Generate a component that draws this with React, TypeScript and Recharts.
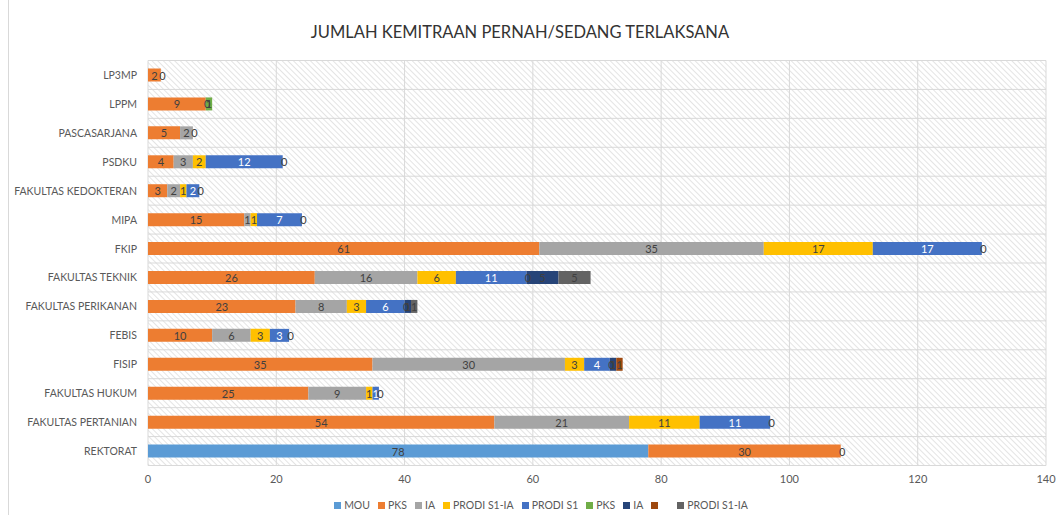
import React from 'react';
import { BarChart, Bar, XAxis, YAxis, CartesianGrid, LabelList } from 'recharts';

const FONT = 'Lato, "Open Sans", "Liberation Sans", sans-serif';

const categories = [
  'LP3MP',
  'LPPM',
  'PASCASARJANA',
  'PSDKU',
  'FAKULTAS KEDOKTERAN',
  'MIPA',
  'FKIP',
  'FAKULTAS TEKNIK',
  'FAKULTAS PERIKANAN',
  'FEBIS',
  'FISIP',
  'FAKULTAS HUKUM',
  'FAKULTAS PERTANIAN',
  'REKTORAT',
];

const mou = [null, null, null, null, null, null, null, null, null, null, null, null, null, 78];
const pks = [2, 9, 5, 4, 3, 15, 61, 26, 23, 10, 35, 25, 54, 30];
const ia = [null, 0, 2, 3, 2, 1, 35, 16, 8, 6, 30, 9, 21, null];
const prodiS1IA = [null, null, null, 2, 1, 1, 17, 6, 3, 3, 3, 1, 11, null];
const prodiS1 = [null, null, null, 12, 2, 7, 17, 11, 6, 3, 4, 1, 11, null];
const pks2 = [0, 1, 0, 0, 0, 0, 0, 0, 0, 0, 0, 0, 0, 0];
const ia2 = [null, null, null, null, null, null, null, 5, 1, null, 1, null, null, null];
const unnamed = [null, null, null, null, null, null, null, null, null, null, 1, null, null, null];
const prodiS1IA2 = [null, null, null, null, null, null, null, 5, 1, null, null, null, null, null];

const xTicks = [0, 20, 40, 60, 80, 100, 120, 140];

const series = [
  { key: 'mou', name: 'MOU', values: mou, color: '#5B9BD5', label: '#404040' },
  { key: 'pks', name: 'PKS', values: pks, color: '#ED7D31', label: '#404040' },
  { key: 'ia', name: 'IA', values: ia, color: '#A5A5A5', label: '#404040' },
  { key: 'prodiS1IA', name: 'PRODI S1-IA', values: prodiS1IA, color: '#FFC000', label: '#404040' },
  { key: 'prodiS1', name: 'PRODI S1', values: prodiS1, color: '#4472C4', label: '#FFFFFF' },
  { key: 'pks2', name: 'PKS', values: pks2, color: '#70AD47', label: '#404040' },
  { key: 'ia2', name: 'IA', values: ia2, color: '#264478', label: '#404040' },
  { key: 'unnamed', name: '', values: unnamed, color: '#9E480E', label: '#404040' },
  { key: 'prodiS1IA2', name: 'PRODI S1-IA', values: prodiS1IA2, color: '#636363', label: '#404040' },
];

const data = categories.map((category, i) => {
  const row: Record<string, any> = { category, row: i };
  series.forEach((s) => {
    row[s.key] = s.values[i];
  });
  return row;
});

// number of zero-valued series drawn at the right end of series j in row i
const zerosAfter = (j: number, i: number) => {
  let count = 0;
  for (let k = j + 1; k < series.length; k++) {
    const v = series[k].values[i];
    if (v === null || v === undefined) continue;
    if (v === 0) count++;
    else break;
  }
  return count;
};

const makeAccessor = (j: number) => (entry: any) => {
  const p = entry && entry.payload;
  if (!p) return null;
  return `${p.row}|${p[series[j].key] ?? ''}`;
};

const makeLabel = (j: number) => (props: any) => {
  const { x, y, width, height, value } = props;
  if (typeof value !== 'string') return null;
  const [rowStr, valStr] = value.split('|');
  const row = Number(rowStr);
  if (valStr === '' || valStr === undefined) return null;
  const v = Number(valStr);
  const s = series[j];
  const cx = Number(x) + Number(width) / 2;
  const cy = Number(y) + Number(height) / 2;
  const zeros = v !== 0 ? zerosAfter(j, row) : 0;
  const common = {
    fontSize: 11,
    fontFamily: FONT,
    textAnchor: 'middle' as const,
    dominantBaseline: 'central' as const,
  };
  return (
    <g>
      {v !== 0 ? (
        <text x={cx} y={cy} fill={s.label} {...common}>
          {v}
        </text>
      ) : null}
      {Array.from({ length: zeros }, (_, z) => (
        <text key={z} x={Number(x) + Number(width) + 1.5} y={cy} fill="#404040" {...common}>
          0
        </text>
      ))}
    </g>
  );
};

const YTick = (props: any) => {
  const { x, y, payload } = props;
  return (
    <text x={x} y={y} textAnchor="end" dominantBaseline="central" fontSize={10.5} fill="#595959" fontFamily={FONT}>
      {payload.value}
    </text>
  );
};

export default function App() {
  return (
    <div style={{ position: 'absolute', left: 0, top: 0, width: 1056, height: 515, background: '#fff', fontFamily: FONT }}>
      <svg width={0} height={0} style={{ position: 'absolute' }}>
        <defs>
          <pattern id="hatch" patternUnits="userSpaceOnUse" width={4} height={4} patternTransform="rotate(-45)">
            <rect x={0} y={0} width={4} height={4} fill="#ffffff" />
            <line x1={0} y1={0} x2={0} y2={4} stroke="#d2d2d2" strokeWidth={1.2} />
          </pattern>
        </defs>
      </svg>
      <div style={{ position: 'absolute', left: 8, top: 0, width: 1, height: 515, background: '#d9d9d9' }} />
      <div
        style={{
          position: 'absolute',
          left: 0,
          width: 1040,
          top: 22,
          textAlign: 'center',
          fontSize: 16.5,
          color: '#333333',
          fontFamily: FONT,
          whiteSpace: 'nowrap',
        }}
      >
        JUMLAH KEMITRAAN PERNAH/SEDANG TERLAKSANA
      </div>
      <div style={{ position: 'absolute', left: 0, top: 0 }}>
        <BarChart
          width={1056}
          height={515}
          data={data}
          layout="vertical"
          barSize={13}
          margin={{ top: 60.5, right: 10, left: 0, bottom: 0 }}
        >
          <CartesianGrid
            stroke="#d9d9d9"
            fill="url(#hatch)"
            fillOpacity={1}
            horizontalCoordinatesGenerator={({ offset }: any) =>
              Array.from({ length: categories.length + 1 }, (_, i) => offset.top + (i * offset.height) / categories.length)
            }
          />
          <XAxis
            type="number"
            domain={[0, 140]}
            ticks={xTicks}
            axisLine={false}
            tickLine={false}
            tickMargin={4}
            height={49.5}
            tick={{ fontSize: 11, fill: '#595959', fontFamily: FONT }}
          />
          <YAxis
            type="category"
            dataKey="category"
            width={148}
            axisLine={false}
            tickLine={false}
            tickMargin={5}
            interval={0}
            tick={<YTick />}
          />
          {series.map((s, j) => (
            <Bar key={s.key} dataKey={s.key} name={s.name || ' '} stackId="a" fill={s.color} isAnimationActive={false}>
              <LabelList valueAccessor={makeAccessor(j)} content={makeLabel(j)} />
            </Bar>
          ))}
        </BarChart>
      </div>
      <div
        style={{
          position: 'absolute',
          left: 0,
          width: 1090,
          top: 499,
          display: 'flex',
          justifyContent: 'center',
          fontSize: 10.5,
          color: '#595959',
          fontFamily: FONT,
          whiteSpace: 'nowrap',
        }}
      >
        {series.map((s) => (
          <div key={s.key} style={{ display: 'flex', alignItems: 'center', marginRight: 8 }}>
            <span style={{ display: 'inline-block', width: 7, height: 7, background: s.color, marginRight: 3 }} />
            <span style={{ minWidth: s.name ? 0 : 8 }}>{s.name}</span>
          </div>
        ))}
      </div>
    </div>
  );
}
